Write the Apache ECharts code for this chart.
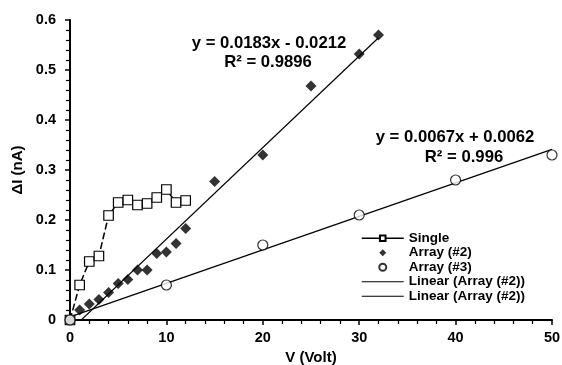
<!DOCTYPE html>
<html>
<head>
<meta charset="utf-8">
<script src="https://cdn.jsdelivr.net/npm/echarts@6/dist/echarts.min.js"></script>
<style>
  html, body { margin: 0; padding: 0; background: #fff; }
  #chart { width: 562px; height: 365px; }
</style>
</head>
<body>
<div id="chart"></div>
<script>
const FONT = '"Liberation Sans", Arial, sans-serif';

// Single device
const singleX = [0, 1, 2, 3, 4, 5, 6, 7, 8, 9, 10, 11, 12];
const singleY = [0, 0.07, 0.117, 0.128, 0.209, 0.235, 0.24, 0.23, 0.233, 0.245, 0.261, 0.235, 0.239];

// Array (#2)
const array2X = [0, 1, 2, 3, 4, 5, 6, 7, 8, 9, 10, 11, 12, 15, 20, 25, 30, 32];
const array2Y = [0, 0.02, 0.032, 0.041, 0.055, 0.073, 0.081, 0.1, 0.1, 0.133, 0.136, 0.153, 0.183, 0.277, 0.33, 0.468, 0.532, 0.57];

// Array (#3)
const array3X = [0, 10, 20, 30, 40, 50];
const array3Y = [0, 0.07, 0.15, 0.21, 0.28, 0.33];

// linear fits as printed on the chart: [slope, intercept]
const fit2 = [0.0183, -0.0212];
const fit3 = [0.0067, 0.0062];
const fit2Label = ['y = 0.0183x - 0.0212', 'R² = 0.9896'];
const fit3Label = ['y = 0.0067x + 0.0062', 'R² = 0.996'];

const xTicks = { min: 0, max: 50, interval: 10 };
const yTicks = { min: 0, max: 0.6, interval: 0.1 };

const zip = (xs, ys) => xs.map((x, i) => [x, ys[i]]);
const fitLine = (xs, fit) => {
  const lo = Math.min(...xs), hi = Math.max(...xs);
  return [[lo, fit[0] * lo + fit[1]], [hi, fit[0] * hi + fit[1]]];
};

const chart = echarts.init(document.getElementById('chart'), null, { renderer: 'canvas' });

const axisCommon = {
  axisLine: { lineStyle: { color: '#000', width: 2 } },
  axisTick: { inside: false, length: 5, lineStyle: { color: '#000', width: 1.5 } },
  minorTick: { show: true, splitNumber: 5, length: 4, lineStyle: { color: '#000', width: 1.2 } },
  splitLine: { show: false },
  axisLabel: { color: '#000', fontFamily: FONT, fontWeight: 'bold', fontSize: 14.5 },
  nameTextStyle: { color: '#000', fontFamily: FONT, fontWeight: 'bold', fontSize: 15 },
};

const lineIcon = 'path://M0,0H42V1.2H0Z';
const diamondIcon = 'path://M5,0L10,5L5,10L0,5Z';

const textStyle = (x, y, text) => ({
  type: 'text', x, y,
  style: { text, font: 'bold 16.7px ' + FONT, textAlign: 'center', textVerticalAlign: 'middle', fill: '#000' },
});

chart.setOption({
  backgroundColor: '#fff',
  animation: false,
  grid: { left: 70, right: 10, top: 20, bottom: 45, outerBoundsMode: 'none' },
  xAxis: {
    type: 'value',
    ...xTicks,
    name: 'V (Volt)',
    nameLocation: 'middle',
    nameGap: 29,
    ...axisCommon,
    axisLabel: { ...axisCommon.axisLabel, margin: 10 },
  },
  yAxis: {
    type: 'value',
    ...yTicks,
    name: 'ΔI (nA)',
    nameLocation: 'middle',
    nameGap: 39,
    ...axisCommon,
    axisLabel: { ...axisCommon.axisLabel, margin: 14 },
  },
  legend: {
    orient: 'vertical',
    left: 361,
    top: 231,
    padding: 0,
    itemWidth: 42,
    itemHeight: 7,
    itemGap: 0,
    textStyle: { color: '#000', fontFamily: FONT, fontWeight: 'bold', fontSize: 13.5, lineHeight: 14.5 },
    formatter: (name) => name.indexOf('Linear') === 0 ? 'Linear (Array (#2))' : name,
    data: [
      { name: 'Single', lineStyle: { type: 'solid', width: 1.5 } },
      { name: 'Array (#2)', icon: diamondIcon },
      { name: 'Array (#3)' },
      { name: 'Linear (Array (#2))', icon: lineIcon },
      { name: 'Linear (Array (#3))', icon: lineIcon },
    ],
  },
  graphic: [
    textStyle(269, 43, fit2Label[0]),
    textStyle(268, 62, fit2Label[1]),
    textStyle(455, 137, fit3Label[0]),
    textStyle(464, 157, fit3Label[1]),
  ],
  series: [
    {
      name: 'Linear (Array (#2))',
      type: 'line',
      data: fitLine(array2X, fit2),
      symbol: 'none',
      color: '#000',
      lineStyle: { color: '#000', width: 1.2 },
      z: 1,
    },
    {
      name: 'Linear (Array (#3))',
      type: 'line',
      data: fitLine(array3X, fit3),
      symbol: 'none',
      color: '#000',
      lineStyle: { color: '#000', width: 1.2 },
      z: 1,
    },
    {
      name: 'Single',
      type: 'line',
      data: zip(singleX, singleY),
      color: '#000',
      symbol: 'rect',
      symbolSize: 9.5,
      showAllSymbol: true,
      lineStyle: { color: '#000', width: 1.5, type: [7, 3] },
      itemStyle: { color: '#fff', borderColor: '#000', borderWidth: 1.2 },
      z: 2,
    },
    {
      name: 'Array (#2)',
      type: 'scatter',
      data: zip(array2X, array2Y),
      symbol: 'diamond',
      symbolSize: 11,
      itemStyle: { color: '#000' },
      z: 3,
    },
    {
      name: 'Array (#3)',
      type: 'scatter',
      data: zip(array3X, array3Y),
      symbol: 'circle',
      symbolSize: 10,
      itemStyle: { color: '#fff', borderColor: '#000', borderWidth: 1.2 },
      z: 4,
    },
  ],
});
</script>
</body>
</html>
